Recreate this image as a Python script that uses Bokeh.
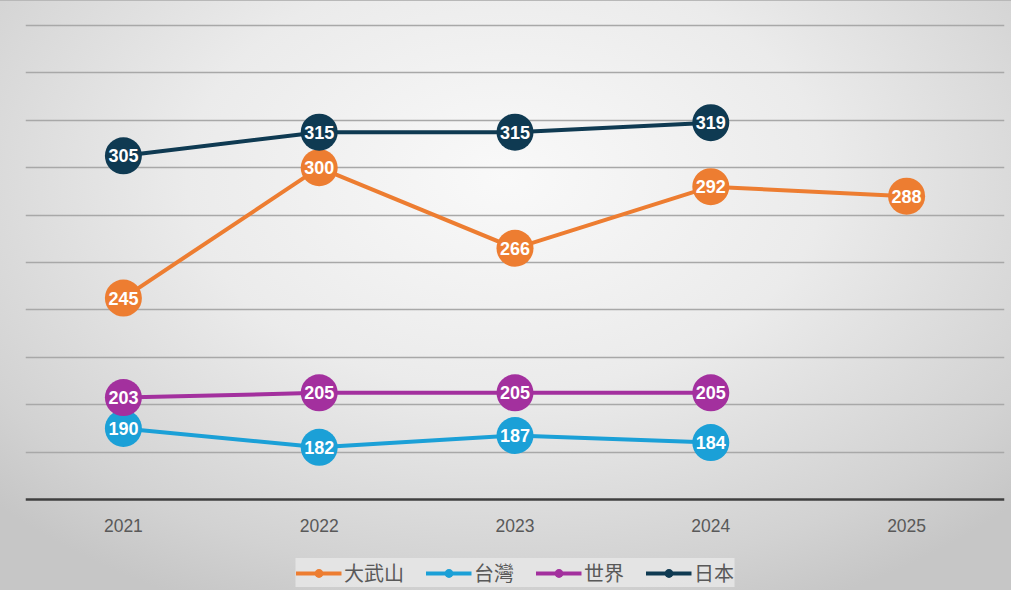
from bokeh.plotting import figure
from bokeh.models import Legend, LegendItem, FixedTicker, ColumnDataSource
from bokeh.core.properties import value
from bokeh.embed import file_html
from bokeh.resources import INLINE

years = ["2021", "2022", "2023", "2024", "2025"]
series_names = ["大武山", "台灣", "世界", "日本"]
dawushan = [245, 300, 266, 292, 288]
taiwan = [190, 182, 187, 184]
world = [203, 205, 205, 205]
japan = [305, 315, 315, 319]
colors = ["#ED7D31", "#1BA0D7", "#A3309E", "#0F3A52"]
grid_ticks = [180, 200, 220, 240, 260, 280, 300, 320, 340, 360]
axis_base = 160

p = figure(width=1011, height=590, x_range=years, y_range=(121.6, 361.27),
           output_backend="svg", toolbar_location=None,
           min_border_left=25, min_border_right=7, min_border_top=22,
           min_border_bottom=0)
p.styles = {"background": "radial-gradient(ellipse 70% 80% at 50% 30%, #f9f9f9 0%, #ebebeb 45%, #d2d2d2 85%, #c6c6c6 100%)",
            "box-shadow": "inset 0 1px 0 #b8b8b8"}
p.border_fill_alpha = 0
p.background_fill_alpha = 0
p.outline_line_color = None

p.yaxis.visible = False
p.xgrid.grid_line_color = None
p.ygrid.ticker = FixedTicker(ticks=grid_ticks)
p.ygrid.grid_line_color = "#a8a8a8"
p.ygrid.grid_line_width = 1.5

p.xaxis.fixed_location = axis_base
p.xaxis.axis_line_color = "#3f3f3f"
p.xaxis.axis_line_width = 2.5
p.xaxis.major_tick_line_color = None
p.xaxis.minor_tick_line_color = None
p.xaxis.major_label_text_font = "Liberation Sans"
p.xaxis.major_label_text_font_size = "17.5px"
p.xaxis.major_label_text_color = "#595959"
p.xaxis.major_label_standoff = 14

all_series = [dawushan, taiwan, world, japan]
items = []
label_sources = []
for name, vals, col in zip(series_names, all_series, colors):
    src = ColumnDataSource(dict(x=years[:len(vals)], y=vals, t=[str(v) for v in vals]))
    ln = p.line("x", "y", source=src, line_color=col, line_width=4)
    sc = p.scatter("x", "y", source=src, size=37, fill_color=col, line_color=None)
    items.append(LegendItem(label=name, renderers=[ln, sc]))
    label_sources.append(src)

for src in label_sources:
    p.text("x", "y", text="t", source=src, text_color="white",
           text_font=value("Liberation Sans"), text_font_style="bold",
           text_font_size="18px", text_align="center", text_baseline="middle")

legend = Legend(items=items, orientation="horizontal", location="bottom_center",
                glyph_width=46, glyph_height=22, spacing=21,
                label_text_font="Noto Sans CJK TC",
                label_text_font_size="20px", label_text_color="#595959",
                background_fill_color="#e6e6e6", background_fill_alpha=0.9,
                border_line_color=None, margin=3, padding=11, label_standoff=3)
p.add_layout(legend)

open("out.html", "w").write(file_html(p, INLINE))
